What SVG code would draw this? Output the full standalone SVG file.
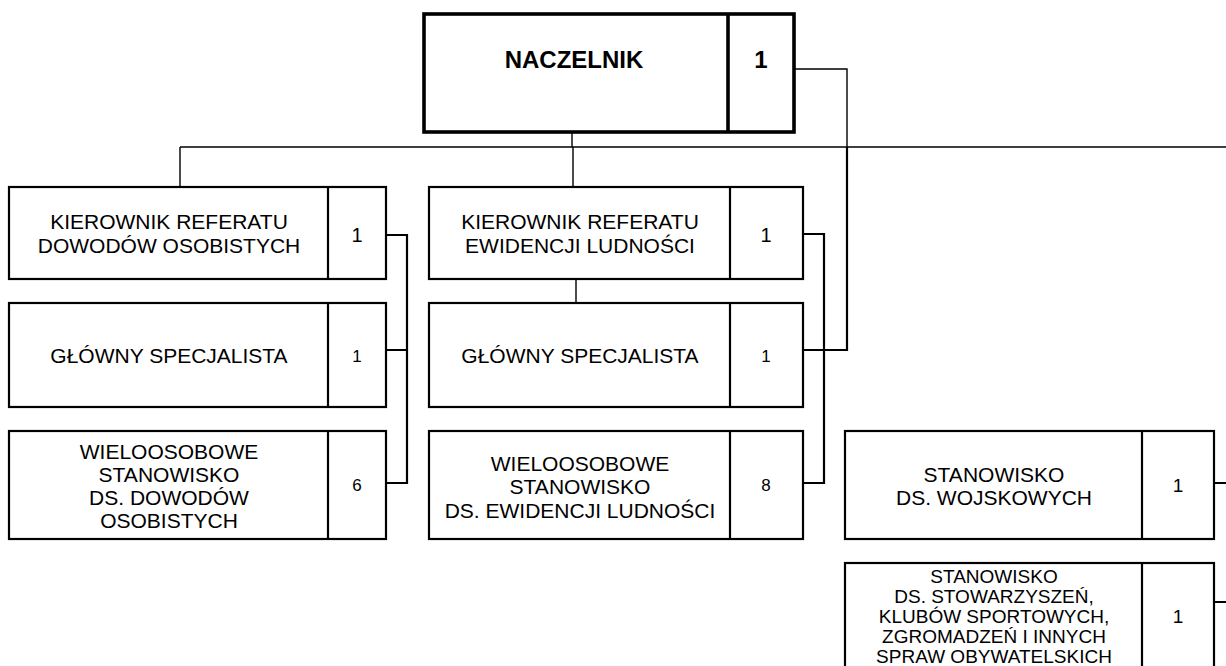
<svg xmlns="http://www.w3.org/2000/svg" width="1226" height="666" viewBox="0 0 1226 666">
<style>
.box{fill:#fff;stroke:#000;stroke-width:2.2}
.top{fill:#fff;stroke:#000;stroke-width:3.6}
.t{font-family:"Liberation Sans",Arial,sans-serif;font-size:21px;fill:#000;text-anchor:middle}
.s{font-family:"Liberation Sans",Arial,sans-serif;font-size:19px;fill:#000;text-anchor:middle}
.n{font-family:"Liberation Sans",Arial,sans-serif;font-size:17px;fill:#000;text-anchor:middle}
.nb{font-family:"Liberation Sans",Arial,sans-serif;font-size:20px;fill:#000;text-anchor:middle}
.b{font-family:"Liberation Sans",Arial,sans-serif;font-size:24px;font-weight:bold;fill:#000;text-anchor:middle}
.c{fill:none;stroke:#000;stroke-width:1.4}
.c2{fill:none;stroke:#000;stroke-width:2.2}
</style>
<g id="connectors">
<path class="c" d="M572 132V147M180 147H1226M180 147V187M573 147V187M576 279V303"/>
<path class="c" d="M793 69H847V147"/>
<path class="c2" d="M847 147V350H803"/>
<path class="c2" d="M386 235H407V483H386M386 350H407"/>
<path class="c2" d="M803 234H824V483H803"/>
<path class="c2" d="M1214 483H1226M1214 602H1226"/>
</g>
<g id="naczelnik">
<rect class="top" x="424" y="14" width="370" height="118"/>
<line x1="728" y1="14" x2="728" y2="132" stroke="#000" stroke-width="3.6"/>
<text class="b" x="574" y="68">NACZELNIK</text>
<text class="b" x="761" y="68">1</text>
</g>
<g id="kier-dowody">
<rect class="box" x="9" y="187" width="377" height="92"/>
<line x1="328" y1="187" x2="328" y2="279" stroke="#000" stroke-width="2.2"/>
<text class="t" x="169" y="229">KIEROWNIK REFERATU</text>
<text class="t" x="169" y="253">DOWODÓW OSOBISTYCH</text>
<text class="nb" x="357" y="242">1</text>
</g>
<g id="glowny-dowody">
<rect class="box" x="9" y="303" width="377" height="104"/>
<line x1="328" y1="303" x2="328" y2="407" stroke="#000" stroke-width="2.2"/>
<text class="t" x="169" y="363">GŁÓWNY SPECJALISTA</text>
<text class="n" x="357" y="362">1</text>
</g>
<g id="wielo-dowody">
<rect class="box" x="9" y="431" width="377" height="108"/>
<line x1="328" y1="431" x2="328" y2="539" stroke="#000" stroke-width="2.2"/>
<text class="t" x="169" y="459">WIELOOSOBOWE</text>
<text class="t" x="169" y="482">STANOWISKO</text>
<text class="t" x="169" y="505">DS. DOWODÓW</text>
<text class="t" x="169" y="528">OSOBISTYCH</text>
<text class="n" x="357" y="491">6</text>
</g>
<g id="kier-ewidencja">
<rect class="box" x="429" y="187" width="374" height="92"/>
<line x1="730" y1="187" x2="730" y2="279" stroke="#000" stroke-width="2.2"/>
<text class="t" x="580" y="229">KIEROWNIK REFERATU</text>
<text class="t" x="580" y="253">EWIDENCJI LUDNOŚCI</text>
<text class="nb" x="766" y="242">1</text>
</g>
<g id="glowny-ewidencja">
<rect class="box" x="429" y="303" width="374" height="104"/>
<line x1="730" y1="303" x2="730" y2="407" stroke="#000" stroke-width="2.2"/>
<text class="t" x="580" y="363">GŁÓWNY SPECJALISTA</text>
<text class="n" x="766" y="362">1</text>
</g>
<g id="wielo-ewidencja">
<rect class="box" x="429" y="431" width="374" height="108"/>
<line x1="730" y1="431" x2="730" y2="539" stroke="#000" stroke-width="2.2"/>
<text class="t" x="580" y="471">WIELOOSOBOWE</text>
<text class="t" x="580" y="494">STANOWISKO</text>
<text class="t" x="580" y="518">DS. EWIDENCJI LUDNOŚCI</text>
<text class="n" x="766" y="491">8</text>
</g>
<g id="wojskowe">
<rect class="box" x="845" y="431" width="369" height="108"/>
<line x1="1142" y1="431" x2="1142" y2="539" stroke="#000" stroke-width="2.2"/>
<text class="t" x="994" y="482">STANOWISKO</text>
<text class="t" x="994" y="505">DS. WOJSKOWYCH</text>
<text class="s" x="1178" y="492">1</text>
</g>
<g id="stowarzyszenia">
<rect class="box" x="845" y="563" width="369" height="120"/>
<line x1="1142" y1="563" x2="1142" y2="683" stroke="#000" stroke-width="2.2"/>
<text class="s" x="994" y="583">STANOWISKO</text>
<text class="s" x="994" y="603">DS. STOWARZYSZEŃ,</text>
<text class="s" x="994" y="623">KLUBÓW SPORTOWYCH,</text>
<text class="s" x="994" y="643">ZGROMADZEŃ I INNYCH</text>
<text class="s" x="994" y="663">SPRAW OBYWATELSKICH</text>
<text class="s" x="1178" y="623">1</text>
</g>
</svg>
